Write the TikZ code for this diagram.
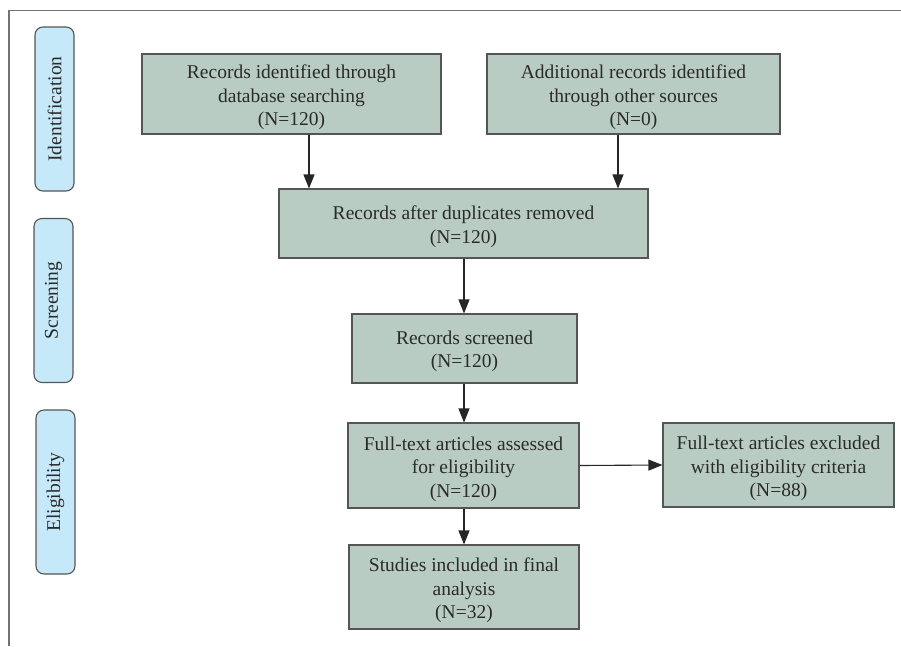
\documentclass[tikz,border=0pt]{standalone}
\usepackage{fontspec}
\setmainfont{Liberation Serif}
\usetikzlibrary{arrows.meta}
\definecolor{boxfill}{HTML}{B8CCC3}
\definecolor{pillfill}{HTML}{C6E9F9}
\definecolor{edge}{HTML}{555555}
\definecolor{txt}{HTML}{2A2A2A}
\begin{document}
\begin{tikzpicture}[x=1pt,y=-1pt,
  box/.style={draw=edge, line width=1.1pt, fill=boxfill, inner sep=0pt},
  boxtext/.style={inner sep=0pt, align=center, text=txt, font=\fontsize{19.5}{23.5}\selectfont},
  pill/.style={draw=edge, line width=1.1pt, fill=pillfill, rounded corners=8pt, inner sep=0pt,
    minimum width=39pt, minimum height=164pt, text=txt, font=\fontsize{19.5}{21}\selectfont},
  arr/.style={draw=black!85, line width=1.1pt, -{Triangle[length=14pt,width=11pt]}},
  frame/.style={draw=black!55, line width=1.3pt}]
\useasboundingbox (0,0) rectangle (901,646);
\coordinate (fa) at (9,10.5);
\coordinate (fb) at (901,10.5);
\coordinate (fc) at (9,646);
\draw[frame] (fb) -- (fa) -- (fc);

\node[pill] (id) at (54.5,109) {\rotatebox{90}{Identification}};
\node[pill] (sc) at (53.5,300.5) {\rotatebox{90}{Screening}};
\node[pill] (el) at (55.5,492) {\rotatebox{90}{Eligibility}};

\node[box, minimum width=299pt, minimum height=80pt] (b1) at (291.5,94) {};
\node[box, minimum width=293pt, minimum height=80pt] (b2) at (633.5,94) {};
\node[box, minimum width=369pt, minimum height=69pt] (b3) at (463.5,223.5) {};
\node[box, minimum width=225pt, minimum height=69pt] (b4) at (464.5,348.5) {};
\node[box, minimum width=231pt, minimum height=85pt] (b5) at (463.5,465.5) {};
\node[box, minimum width=231pt, minimum height=84pt] (b6) at (778.5,465) {};
\node[box, minimum width=230pt, minimum height=84pt] (b7) at (464,587) {};

\node[boxtext] (t1) at ([yshift=-3.5pt]b1.center)
  {Records identified through\\database searching\\(N=120)};
\node[boxtext] (t2) at ([yshift=-3.5pt]b2.center)
  {Additional records identified\\through other sources\\(N=0)};
\node[boxtext] (t3) at ([yshift=-3pt]b3.center)
  {Records after duplicates removed\\(N=120)};
\node[boxtext] (t4) at ([yshift=-3pt]b4.center)
  {Records screened\\(N=120)};
\node[boxtext] (t5) at ([yshift=-3.5pt]b5.center)
  {Full-text articles assessed\\for eligibility\\(N=120)};
\node[boxtext] (t6) at ([yshift=-3.5pt]b6.center)
  {Full-text articles excluded\\with eligibility criteria\\(N=88)};
\node[boxtext] (t7) at ([yshift=-3.5pt]b7.center)
  {Studies included in final\\analysis\\(N=32)};

\coordinate (x1) at (309,0);
\coordinate (x2) at (618,0);
\coordinate (x3) at (464,0);
\draw[arr] (b1.south -| x1) -- (b3.north -| x1);
\draw[arr] (b2.south -| x2) -- (b3.north -| x2);
\draw[arr] (b3.south -| x3) -- (b4.north -| x3);
\draw[arr] (b4.south -| x3) -- (b5.north -| x3);
\draw[arr] (b5.east) -- (b6.west);
\draw[arr] (b5.south -| x3) -- (b7.north -| x3);
\end{tikzpicture}
\end{document}
